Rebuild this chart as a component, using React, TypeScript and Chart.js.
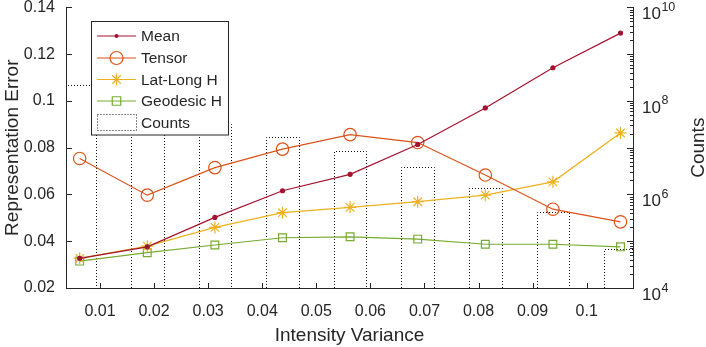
import React, { useEffect, useRef } from "react";
import { Chart, registerables } from "chart.js";

Chart.register(...registerables);

// ---------- data ----------
const binCenters = [0.00625, 0.01875, 0.03125, 0.04375, 0.05625, 0.06875, 0.08125, 0.09375, 0.10625];
const meanErr = [0.0327, 0.0376, 0.0502, 0.0616, 0.0686, 0.0814, 0.097, 0.1142, 0.129];
const tensorErr = [0.0754, 0.0597, 0.0715, 0.0794, 0.0856, 0.0822, 0.0683, 0.0537, 0.0483];
const latLongErr = [0.0327, 0.0379, 0.0459, 0.0522, 0.0545, 0.0569, 0.0597, 0.0654, 0.0863];
const geodesicErr = [0.0315, 0.0351, 0.0384, 0.0415, 0.0419, 0.0409, 0.0387, 0.0387, 0.0376];
const counts = [2.16e8, 1.2e8, 3.29e7, 1.7e7, 8.4e6, 3.78e6, 1.38e6, 4.26e5, 6.8e4];

const xTicks = [0.01, 0.02, 0.03, 0.04, 0.05, 0.06, 0.07, 0.08, 0.09, 0.1];
const yTicks = [0.02, 0.04, 0.06, 0.08, 0.1, 0.12, 0.14];
const countMajorExps = [4, 5, 6, 7, 8, 9, 10];
const countLabelExps = [4, 6, 8, 10];
const seriesNames = ["Mean", "Tensor", "Lat-Long H", "Geodesic H", "Counts"];
const xTitle = "Intensity Variance";
const yTitle = "Representation Error";
const y1Title = "Counts";

// ---------- style ----------
const FONT = '"Liberation Sans", Arial, Helvetica, sans-serif';
const AXIS = "#262626";
const C_MEAN = "#A2142F";
const C_TENSOR = "#D95319";
const C_LATLONG = "#EDB120";
const C_GEO = "#77AC30";
const C_COUNTS = "#111111";

const fmt = (v: number) => {
  let s = (+v).toFixed(2);
  if (s.endsWith("0")) s = s.slice(0, -1);
  return s;
};

function drawMarker(ctx: CanvasRenderingContext2D, kind: string, x: number, y: number, r: number, color: string) {
  ctx.save();
  ctx.strokeStyle = color;
  ctx.fillStyle = color;
  ctx.lineWidth = 1.2;
  ctx.setLineDash([]);
  ctx.beginPath();
  if (kind === "dot") {
    ctx.arc(x, y, r, 0, Math.PI * 2);
    ctx.fill();
  } else if (kind === "circle") {
    ctx.arc(x, y, r, 0, Math.PI * 2);
    ctx.stroke();
  } else if (kind === "star") {
    const d = r * Math.SQRT1_2;
    ctx.moveTo(x - r, y); ctx.lineTo(x + r, y);
    ctx.moveTo(x, y - r); ctx.lineTo(x, y + r);
    ctx.moveTo(x - d, y - d); ctx.lineTo(x + d, y + d);
    ctx.moveTo(x - d, y + d); ctx.lineTo(x + d, y - d);
    ctx.stroke();
  } else if (kind === "rect") {
    const s = r * Math.SQRT1_2;
    ctx.rect(x - s, y - s, 2 * s, 2 * s);
    ctx.stroke();
  }
  ctx.restore();
}

const decorPlugin = {
  id: "matlabDecor",
  afterDatasetDraw(chart: any, args: any) {
    if (args.index !== 4) return;
    const meta = chart.getDatasetMeta(4);
    const ctx: CanvasRenderingContext2D = chart.ctx;
    const a = chart.chartArea;
    ctx.save();
    ctx.beginPath();
    ctx.rect(a.left, a.top, a.right - a.left, a.bottom - a.top);
    ctx.clip();
    ctx.strokeStyle = C_COUNTS;
    ctx.lineWidth = 1;
    ctx.setLineDash([1, 2]);
    meta.data.forEach((bar: any) => {
      const p = bar.getProps(["x", "y", "width", "base"], true);
      const l = Math.round(p.x - p.width / 2) + 0.5;
      const r = Math.round(p.x + p.width / 2) + 0.5;
      const t = Math.round(p.y) + 0.5;
      const b = p.base;
      ctx.beginPath();
      ctx.moveTo(l, b);
      ctx.lineTo(l, t);
      ctx.lineTo(r, t);
      ctx.lineTo(r, b);
      ctx.stroke();
    });
    ctx.restore();
  },
  afterDraw(chart: any) {
    const ctx: CanvasRenderingContext2D = chart.ctx;
    const a = chart.chartArea;
    const xs = chart.scales.x;
    const ys = chart.scales.y;
    const y1 = chart.scales.y1;
    ctx.save();
    ctx.strokeStyle = AXIS;
    ctx.lineWidth = 1;
    ctx.setLineDash([]);
    ctx.beginPath();
    // left ticks (inward)
    yTicks.forEach((v) => {
      const py = Math.round(ys.getPixelForValue(v)) + 0.5;
      ctx.moveTo(a.left, py);
      ctx.lineTo(a.left + 6, py);
    });
    // bottom ticks
    xTicks.forEach((v) => {
      const px = Math.round(xs.getPixelForValue(v)) + 0.5;
      ctx.moveTo(px, a.bottom);
      ctx.lineTo(px, a.bottom - 5);
    });
    // right log ticks
    countMajorExps.forEach((e) => {
      const py = Math.round(y1.getPixelForValue(Math.pow(10, e))) + 0.5;
      ctx.moveTo(a.right, py);
      ctx.lineTo(a.right - 6, py);
      if (e < 10) {
        for (let m = 2; m <= 9; m++) {
          const pm = Math.round(y1.getPixelForValue(m * Math.pow(10, e))) + 0.5;
          ctx.moveTo(a.right, pm);
          ctx.lineTo(a.right - 3, pm);
        }
      }
    });
    ctx.stroke();

    // right tick labels 10^e
    ctx.fillStyle = AXIS;
    ctx.textAlign = "left";
    ctx.textBaseline = "alphabetic";
    countLabelExps.forEach((e) => {
      const py = y1.getPixelForValue(Math.pow(10, e));
      ctx.font = `17px ${FONT}`;
      const bx = a.right + 9;
      ctx.fillText("10", bx, py + 12);
      const w = ctx.measureText("10").width;
      ctx.font = `12.5px ${FONT}`;
      ctx.fillText(String(e), bx + w + 0.5, py + 3.5);
    });

    // right title (reads bottom-to-top)
    ctx.save();
    ctx.font = `19px ${FONT}`;
    ctx.translate(699, (a.top + a.bottom) / 2);
    ctx.rotate(-Math.PI / 2);
    ctx.textAlign = "center";
    ctx.textBaseline = "middle";
    ctx.fillText(y1Title, 0, 0);
    ctx.restore();

    // legend
    const lx = 91.5, ly = 21.5, lw = 137, lh = 113.5;
    ctx.fillStyle = "#ffffff";
    ctx.fillRect(lx, ly, lw, lh);
    ctx.strokeStyle = AXIS;
    ctx.lineWidth = 1;
    ctx.strokeRect(lx, ly, lw, lh);
    const rows = [36, 58, 79.5, 101, 122.5];
    const colors = [C_MEAN, C_TENSOR, C_LATLONG, C_GEO];
    const kinds = ["dot", "circle", "star", "rect"];
    const radii = [2, 6.5, 6, 6];
    const x0 = 97, x1 = 136, xm = 116.5;
    for (let i = 0; i < 4; i++) {
      ctx.strokeStyle = colors[i];
      ctx.lineWidth = 1.2;
      ctx.beginPath();
      ctx.moveTo(x0, rows[i]);
      ctx.lineTo(x1, rows[i]);
      ctx.stroke();
      drawMarker(ctx, kinds[i], xm, rows[i], radii[i], colors[i]);
    }
    ctx.strokeStyle = C_COUNTS;
    ctx.lineWidth = 1;
    ctx.setLineDash([1, 2]);
    ctx.strokeRect(97.5, 114.5, 39, 16);
    ctx.setLineDash([]);
    ctx.fillStyle = AXIS;
    ctx.font = `15.5px ${FONT}`;
    ctx.textAlign = "left";
    ctx.textBaseline = "middle";
    seriesNames.forEach((n, i) => ctx.fillText(n, 141, rows[i] + 1));
    ctx.restore();
  },
};

export default function App() {
  const ref = useRef<HTMLCanvasElement | null>(null);
  useEffect(() => {
    if (!ref.current) return;
    Chart.defaults.font.family = FONT;
    Chart.defaults.color = AXIS;
    const pts = (arr: number[]) => binCenters.map((x, i) => ({ x, y: arr[i] }));
    const lineBase = {
      type: "line" as const,
      yAxisID: "y",
      borderWidth: 1.2,
      fill: false,
      tension: 0,
      pointBorderWidth: 1.2,
      pointBackgroundColor: "rgba(0,0,0,0)",
    };
    const chart = new Chart(ref.current, {
      type: "line",
      data: {
        datasets: [
          { ...lineBase, label: seriesNames[0], data: pts(meanErr), borderColor: C_MEAN, pointBorderColor: C_MEAN, pointBackgroundColor: C_MEAN, pointStyle: "circle", pointRadius: 2 },
          { ...lineBase, label: seriesNames[1], data: pts(tensorErr), borderColor: C_TENSOR, pointBorderColor: C_TENSOR, pointStyle: "circle", pointRadius: 6.2 },
          { ...lineBase, label: seriesNames[2], data: pts(latLongErr), borderColor: C_LATLONG, pointBorderColor: C_LATLONG, pointStyle: "star", pointRadius: 6 },
          { ...lineBase, label: seriesNames[3], data: pts(geodesicErr), borderColor: C_GEO, pointBorderColor: C_GEO, pointStyle: "rect", pointRadius: 5.5 },
          {
            type: "bar" as const,
            label: seriesNames[4],
            data: pts(counts),
            yAxisID: "y1",
            backgroundColor: "rgba(0,0,0,0)",
            borderWidth: 0,
            barPercentage: 0.6,
            categoryPercentage: 1,
            clip: 0,
          },
        ] as any,
      },
      options: {
        animation: false,
        responsive: false,
        events: [],
        layout: { padding: { top: 7, left: 0, right: 0, bottom: 0 } },
        plugins: { legend: { display: false }, tooltip: { enabled: false } },
        scales: {
          x: {
            type: "linear",
            position: "bottom",
            min: 0.00372,
            max: 0.10856,
            offset: false,
            grid: { display: false, drawTicks: false, offset: false },
            border: { display: true, color: AXIS, width: 1 },
            ticks: { padding: 14, font: { size: 16, family: FONT }, color: AXIS, callback: (v: any) => fmt(v), maxRotation: 0, autoSkip: false },
            afterBuildTicks: (s: any) => { s.ticks = xTicks.map((v) => ({ value: v })); },
            afterFit: (s: any) => { s.height = 59; s.paddingLeft = 0; s.paddingRight = 0; },
            title: { display: true, text: xTitle, font: { size: 19, family: FONT }, color: AXIS, padding: { top: 0, bottom: 0 } },
          },
          y: {
            type: "linear",
            position: "left",
            min: 0.02,
            max: 0.14,
            grid: { display: false, drawTicks: false },
            border: { display: true, color: AXIS, width: 1 },
            ticks: { padding: 11, font: { size: 16, family: FONT }, color: AXIS, callback: (v: any) => fmt(v), autoSkip: false },
            afterBuildTicks: (s: any) => { s.ticks = yTicks.map((v) => ({ value: v })); },
            afterFit: (s: any) => { s.width = 66; s.paddingTop = 0; s.paddingBottom = 0; },
            title: { display: true, text: yTitle, font: { size: 19, family: FONT }, color: AXIS, padding: { top: 1, bottom: 0 } },
          },
          y1: {
            type: "logarithmic",
            position: "right",
            min: 1e4,
            max: 1e10,
            beginAtZero: false,
            grid: { display: false, drawTicks: false },
            border: { display: true, color: AXIS, width: 1 },
            ticks: { display: false },
            afterFit: (s: any) => { s.width = 73; s.paddingTop = 0; s.paddingBottom = 0; },
          },
        },
      } as any,
      plugins: [decorPlugin as any],
    });
    return () => chart.destroy();
  }, []);
  return (
    <div style={{ position: "absolute", left: 0, top: 0, width: 706, height: 347, background: "#fff" }}>
      <canvas ref={ref} width={706} height={347} style={{ display: "block" }} />
    </div>
  );
}
